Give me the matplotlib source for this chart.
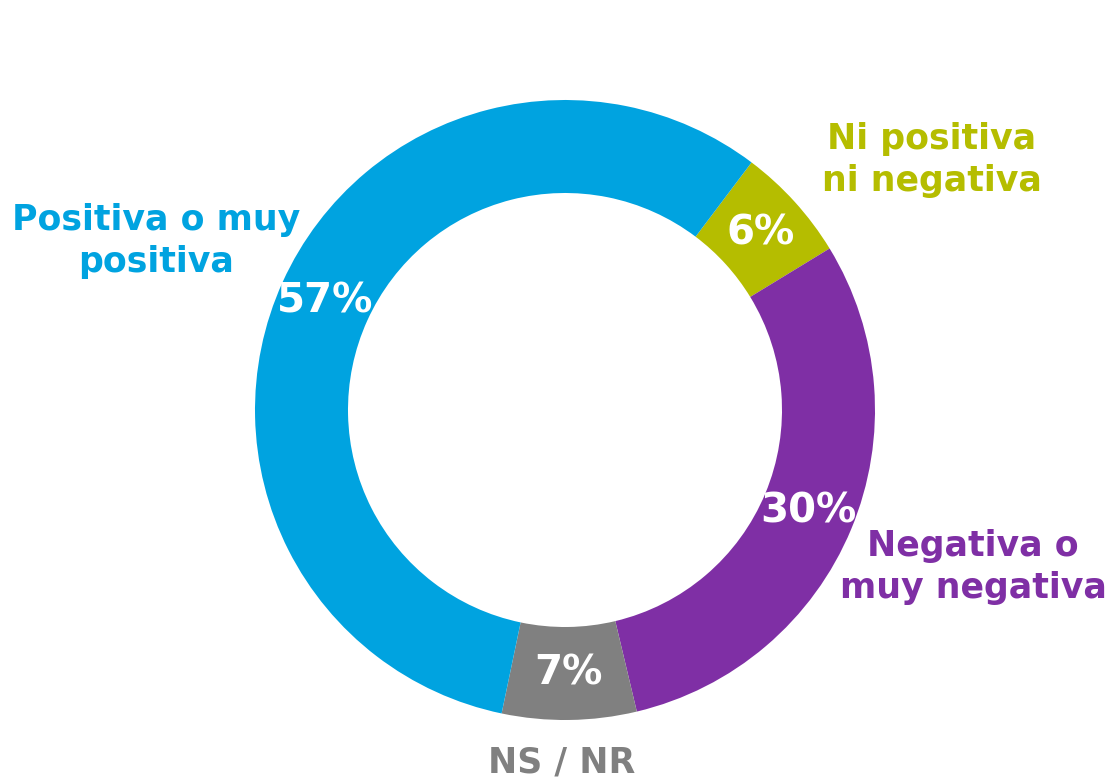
import matplotlib
matplotlib.use("Agg")
import matplotlib.pyplot as plt

# Data
categories = ["Ni positiva\nni negativa", "Negativa o\nmuy negativa", "NS / NR", "Positiva o muy\npositiva"]
values = [6, 30, 7, 57]
pct_labels = ["6%", "30%", "7%", "57%"]
colors = ["#B5BD00", "#7F2FA5", "#808080", "#00A3E0"]

W, H = 1112, 781
fig = plt.figure(figsize=(W / 100, H / 100), dpi=100)
ax = fig.add_axes([0, 0, 1, 1])

cx, cy, R = 565, H - 410, 310
wedges, texts = ax.pie(
    values, colors=colors, labels=pct_labels, labeldistance=0.85,
    startangle=53, counterclock=False, radius=R, center=(cx, cy),
    wedgeprops=dict(width=93, linewidth=0), frame=True,
    textprops=dict(color="white", fontsize=29, fontweight="heavy",
                   ha="center", va="center", family="DejaVu Sans"),
)
for t in texts:
    t.set_ha("center")
    t.set_va("center")

ax.set_xlim(0, W)
ax.set_ylim(0, H)
ax.set_aspect("equal")
ax.axis("off")

# Outer category labels
label_pos = [(932, 160), (973, 567), (562, 763), (156, 241)]
for cat, col, (x, y) in zip(categories, colors, label_pos):
    ax.text(x, H - y, cat, color=col, fontsize=25, fontweight="bold",
            ha="center", va="center", linespacing=1.3, family="DejaVu Sans")

fig.savefig("out.png", dpi=100)
